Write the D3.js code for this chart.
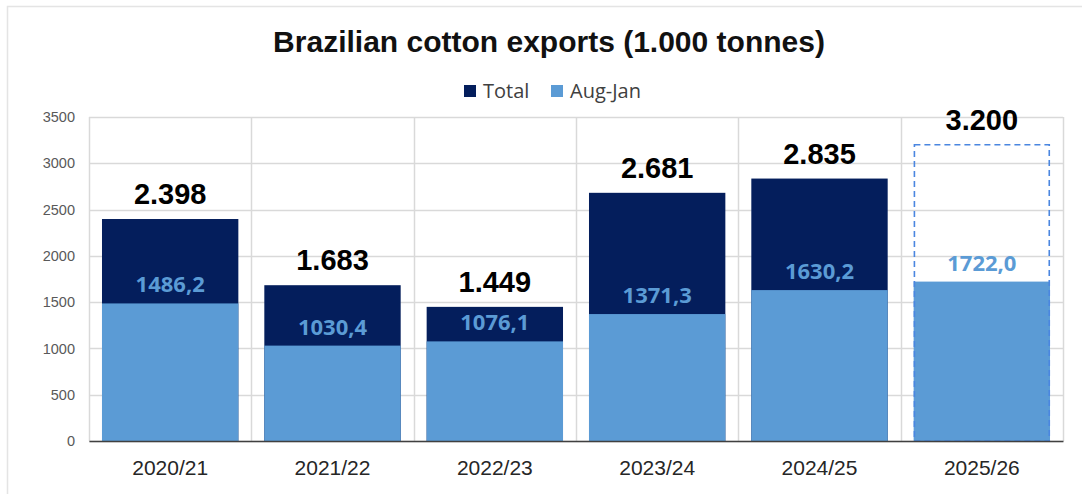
<!DOCTYPE html>
<html>
<head>
<meta charset="utf-8">
<script src="https://cdn.jsdelivr.net/npm/d3@7"></script>
<style>
  body { margin: 0; background: #fff; }
  svg { display: block; }
</style>
</head>
<body>
<div id="chart"></div>
<script>
// data
const seasons = ["2020/21", "2021/22", "2022/23", "2023/24", "2024/25", "2025/26"]
const totals = [2398, 1683, 1449, 2681, 2835, 3200]
const augJan = [1486.2, 1030.4, 1076.1, 1371.3, 1630.2, 1722.0]
const projected = [false, false, false, false, false, true]
const yTicks = [0, 500, 1000, 1500, 2000, 2500, 3000, 3500]

const W = 1082, H = 494
const margin = {top: 117, right: 19, bottom: 53, left: 89}
const width = W - margin.left - margin.right
const height = H - margin.top - margin.bottom

const svg = d3.select("#chart").append("svg")
    .attr("width", W)
    .attr("height", H)

// faint outer frame
svg.append("path")
    .attr("d", `M7.5,${H} V6.5 H${W}`)
    .attr("fill", "none")
    .attr("stroke", "#e4e4e4")
    .attr("stroke-width", 1.5)

svg.append("text")
    .attr("x", W / 2 + 8)
    .attr("y", 52)
    .attr("text-anchor", "middle")
    .attr("font-family", "Liberation Sans, Arial, sans-serif")
    .attr("font-weight", "bold")
    .attr("font-size", 30)
    .attr("fill", "#111")
    .text("Brazilian cotton exports (1.000 tonnes)")

// legend
const legendItems = [{name: "Total", color: "#041e5c", x: 464}, {name: "Aug-Jan", color: "#5b9bd5", x: 551}]
const legend = svg.append("g").selectAll("g")
    .data(legendItems)
    .enter().append("g")
    .attr("transform", d => `translate(${d.x}, 91)`)
legend.append("rect")
    .attr("x", 0).attr("y", -6)
    .attr("width", 12).attr("height", 12)
    .attr("fill", d => d.color)
legend.append("text")
    .attr("x", 19)
    .attr("dy", "0.36em")
    .attr("font-family", "Open Sans, sans-serif")
    .attr("font-size", 20)
    .attr("fill", "#404040")
    .text(d => d.name)

const g = svg.append("g")
    .attr("transform", `translate(${margin.left}, ${margin.top})`)

const x = d3.scaleBand().domain(seasons).range([0, width]).paddingInner(0.16).paddingOuter(0.08)
const y = d3.scaleLinear().domain([0, 3500]).range([height, 0])

// horizontal grid
g.append("g")
    .selectAll("line")
    .data(yTicks)
    .enter().append("line")
    .attr("x1", 0).attr("x2", width)
    .attr("y1", d => Math.round(y(d)) + 0.5)
    .attr("y2", d => Math.round(y(d)) + 0.5)
    .attr("stroke", "#d9d9d9")
    .attr("stroke-width", 1.5)

// vertical grid between categories
const step = width / seasons.length
g.append("g")
    .selectAll("line")
    .data(d3.range(seasons.length + 1))
    .enter().append("line")
    .attr("x1", i => Math.round(i * step) + 0.5)
    .attr("x2", i => Math.round(i * step) + 0.5)
    .attr("y1", 0).attr("y2", height)
    .attr("stroke", "#d9d9d9")
    .attr("stroke-width", 1.5)

// y axis
const yAxis = d3.axisLeft(y).tickValues(yTicks).tickFormat(d3.format("d")).tickSize(0).tickPadding(14)
g.append("g")
    .attr("class", "y-axis")
    .call(yAxis)
    .call(a => a.select(".domain").remove())
    .selectAll("text")
    .attr("font-family", "Liberation Sans, Arial, sans-serif")
    .attr("font-size", 14.5)
    .attr("fill", "#595959")

const rows = seasons.map((s, i) => ({season: s, total: totals[i], aug: augJan[i], proj: projected[i]}))

// total bars
g.selectAll(".total")
    .data(rows.filter(d => !d.proj))
    .enter().append("rect")
    .attr("class", "total")
    .attr("x", d => x(d.season))
    .attr("width", x.bandwidth())
    .attr("y", d => y(d.total))
    .attr("height", d => height - y(d.total))
    .attr("fill", "#041e5c")

// aug-jan bars
g.selectAll(".aug")
    .data(rows)
    .enter().append("rect")
    .attr("class", "aug")
    .attr("x", d => x(d.season))
    .attr("width", x.bandwidth())
    .attr("y", d => y(d.aug))
    .attr("height", d => height - y(d.aug))
    .attr("fill", "#5b9bd5")

// projected total: dashed outline
g.selectAll(".proj")
    .data(rows.filter(d => d.proj))
    .enter().append("rect")
    .attr("class", "proj")
    .attr("x", d => x(d.season) + 0.75)
    .attr("width", x.bandwidth() - 1.5)
    .attr("y", d => y(d.total))
    .attr("height", d => height - y(d.total))
    .attr("fill", "none")
    .attr("stroke", "#4a86e0")
    .attr("stroke-width", 1.6)
    .attr("stroke-dasharray", "6,4")

// x axis
const xAxis = d3.axisBottom(x).tickSize(0).tickPadding(19)
g.append("g")
    .attr("class", "x-axis")
    .attr("transform", `translate(0, ${height})`)
    .call(xAxis)
    .call(a => a.select(".domain").attr("stroke", "#404040").attr("stroke-width", 1.5))
    .selectAll("text")
    .attr("font-family", "Liberation Sans, Arial, sans-serif")
    .attr("font-size", 21)
    .attr("fill", "#262626")

// total labels
g.selectAll(".totalLabel")
    .data(rows)
    .enter().append("text")
    .attr("x", d => x(d.season) + x.bandwidth() / 2)
    .attr("y", d => y(d.total) - 15)
    .attr("text-anchor", "middle")
    .attr("font-family", "Liberation Sans, Arial, sans-serif")
    .attr("font-weight", "bold")
    .attr("font-size", 29)
    .attr("fill", "#000")
    .text(d => d3.format(",")(d.total).replace(",", "."))

// aug-jan labels
g.selectAll(".augLabel")
    .data(rows)
    .enter().append("text")
    .attr("x", d => x(d.season) + x.bandwidth() / 2)
    .attr("y", d => y(d.aug) - 11)
    .attr("text-anchor", "middle")
    .attr("font-family", "Open Sans, sans-serif")
    .attr("font-weight", "bold")
    .attr("font-size", 22)
    .attr("fill", "#5b9bd5")
    .text(d => d.aug.toFixed(1).replace(".", ","))
</script>
</body>
</html>
